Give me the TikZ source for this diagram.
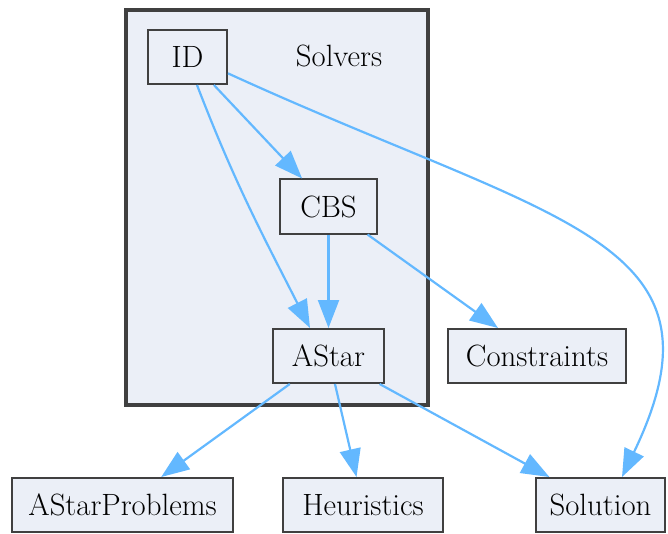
\documentclass[tikz,border=0pt]{standalone}
\usetikzlibrary{arrows.meta}
\definecolor{edgeblue}{HTML}{63B8FF}
\definecolor{boxfill}{HTML}{EBEFF7}
\definecolor{boxline}{HTML}{404040}
\begin{document}
\begin{tikzpicture}[x=0.5pt,y=-0.5pt]

			\tikzstyle{dir}=[fill=boxfill,draw=boxline,line width=1pt,
				minimum height=27pt,inner sep=0pt,
				font=\fontsize{15.4}{18}\selectfont]
			\tikzstyle{dep}=[draw=edgeblue,line width=1.1pt,
				-{Triangle[length=14pt,width=10.5pt]}]

			\useasboundingbox (0,0) rectangle (668,534);
			\draw[fill=boxfill,draw=boxline,line width=2pt] (126,10) rectangle (428,405);
			\node[font=\fontsize{15.4}{18}\selectfont]	(solvers)	at (339,56)	{Solvers};

			\node[dir,minimum width=39.5pt]	(ID)	at (187.5,57)	{ID};
			\node[dir,minimum width=48.5pt]	(CBS)	at (328.5,206.5)	{CBS};
			\node[dir,minimum width=55.5pt]	(AStar)	at (328.5,356)	{AStar};
			\node[dir,minimum width=89pt]	(Constraints)	at (537,356)	{Constraints};
			\node[dir,minimum width=110.5pt]	(AStarProblems)	at (122.5,505)	{AStarProblems};
			\node[dir,minimum width=80pt]	(Heuristics)	at (363,505)	{Heuristics};
			\node[dir,minimum width=64.5pt]	(Solution)	at (600.5,505)	{Solution};

			\draw[dep] (ID) -- (CBS);
			\draw[dep] ([xshift=4.75pt]ID.south) to[out=-69,in=117] ([xshift=-9.25pt]AStar.north);
			\draw[dep] (ID.-22) .. controls (557,224) and (737,238) .. ([xshift=10.75pt]Solution.north);
			\draw[dep] (CBS) -- (AStar);
			\draw[dep] (CBS) -- (Constraints);
			\draw[dep] (AStar) -- (AStarProblems);
			\draw[dep] (AStar) -- (Heuristics);
			\draw[dep] (AStar) -- (Solution);

\end{tikzpicture}
\end{document}
